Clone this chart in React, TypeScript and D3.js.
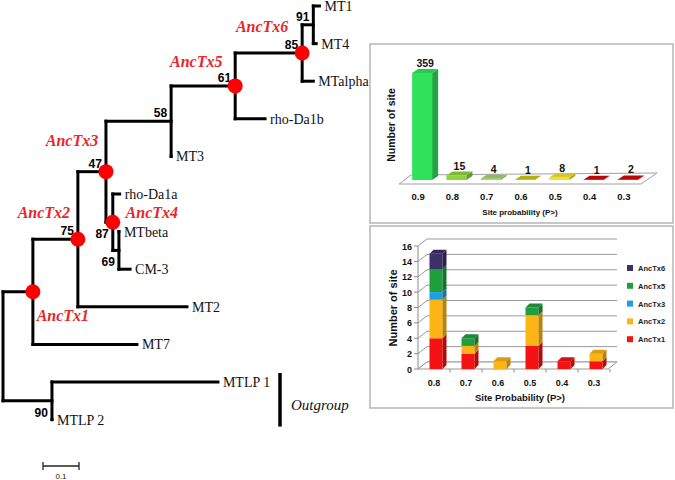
import React from 'react';
import * as d3 from 'd3';

// ---------------- Tree data ----------------
const tipOrder = ["MT1", "MT4", "MTalpha", "rho-Da1b", "MT3", "rho-Da1a", "MTbeta", "CM-3", "MT2", "MT7", "MTLP 1", "MTLP 2"];
// [node, parent, branch length]
const treeEdges: [string, string | null, number][] = [
  ["root", null, 0],
  ["AncTx1", "root", 0.083],
  ["n90", "root", 0.136],
  ["MTLP 1", "n90", 0.461],
  ["MTLP 2", "n90", 0.0],
  ["AncTx2", "AncTx1", 0.125],
  ["MT7", "AncTx1", 0.289],
  ["AncTx3", "AncTx2", 0.078],
  ["MT2", "AncTx2", 0.303],
  ["n58", "AncTx3", 0.181],
  ["AncTx4", "AncTx3", 0.019],
  ["rho-Da1a", "AncTx4", 0.019],
  ["n69", "AncTx4", 0.017],
  ["MTbeta", "n69", 0.0],
  ["CM-3", "n69", 0.031],
  ["AncTx5", "n58", 0.178],
  ["MT3", "n58", 0.0],
  ["rho-Da1b", "AncTx5", 0.083],
  ["AncTx6", "AncTx5", 0.186],
  ["n91", "AncTx6", 0.031],
  ["MTalpha", "AncTx6", 0.031],
  ["MT1", "n91", 0.017],
  ["MT4", "n91", 0.008],
];
const bootstrapValues: [string, number][] = [
  ["n91", 91], ["AncTx6", 85], ["AncTx5", 61], ["n58", 58], ["AncTx3", 47],
  ["AncTx2", 75], ["AncTx4", 87], ["n69", 69], ["n90", 90],
];
const bootstrapBelow = ["AncTx4", "n69", "n90"];
const ancestralNodes = ["AncTx1", "AncTx2", "AncTx3", "AncTx4", "AncTx5", "AncTx6"];
const outgroupTips = ["MTLP 1", "MTLP 2"];
const outgroupLabel = "Outgroup";
const scaleBarValue = 0.1;

// ---------------- Chart 1 data ----------------
const probCats1 = ["0.9", "0.8", "0.7", "0.6", "0.5", "0.4", "0.3"];
const siteCounts = [359, 15, 4, 1, 8, 1, 2];
const barColors1 = ["#2ee35a", "#8fd23c", "#a3d466", "#c9c90a", "#efe22e", "#d40808", "#d40808"];

// ---------------- Chart 2 data ----------------
const probCats2 = ["0.8", "0.7", "0.6", "0.5", "0.4", "0.3"];
const seriesNames = ["AncTx1", "AncTx2", "AncTx3", "AncTx5", "AncTx6"];
const ancTx1Counts = [4, 2, 0, 3, 1, 1];
const ancTx2Counts = [5, 1, 1, 4, 0, 1];
const ancTx3Counts = [1, 0, 0, 0, 0, 0];
const ancTx5Counts = [3, 1, 0, 1, 0, 0];
const ancTx6Counts = [2, 0, 0, 0, 0, 0];
const seriesColors = ["#f51212", "#fdb414", "#1d9fe6", "#1f9e3e", "#3d2f68"];
const yTicks2 = [0, 2, 4, 6, 8, 10, 12, 14, 16];

// label offsets for ancestral-node names (style)
const ancLabelOffset: Record<string, [number, number]> = {
  AncTx6: [-40, -21.5],
  AncTx5: [-39, -18.5],
  AncTx3: [-34, -26],
  AncTx2: [-34, -21.5],
  AncTx4: [39, -4.5],
  AncTx1: [30, 29.5],
};

const SANS = "'Liberation Sans', Arial, sans-serif";
const SERIF = "'Liberation Serif', 'Times New Roman', serif";

function Tree() {
  const xScale = d3.scaleLinear().domain([0, 0.1]).range([3, 39]);
  const yScale = d3.scalePoint<string>().domain(tipOrder).range([6, 419.6]);

  const parent = new Map<string, string | null>();
  const len = new Map<string, number>();
  const children = new Map<string, string[]>();
  treeEdges.forEach(([n, p, l]) => {
    parent.set(n, p);
    len.set(n, l);
    if (p) {
      if (!children.has(p)) children.set(p, []);
      children.get(p)!.push(n);
    }
  });
  const depth = new Map<string, number>();
  const getDepth = (n: string): number => {
    if (depth.has(n)) return depth.get(n)!;
    const p = parent.get(n);
    const d = p ? getDepth(p) + (len.get(n) || 0) : 0;
    depth.set(n, d);
    return d;
  };
  const yPos = new Map<string, number>();
  const getY = (n: string): number => {
    if (yPos.has(n)) return yPos.get(n)!;
    const ch = children.get(n);
    let y: number;
    if (!ch) y = yScale(n)!;
    else {
      const ys = ch.map(getY);
      y = (d3.min(ys)! + d3.max(ys)!) / 2;
    }
    yPos.set(n, y);
    return y;
  };
  const X = (n: string) => xScale(getDepth(n));
  const Y = (n: string) => getY(n);

  const sw = 3;
  const lines: JSX.Element[] = [];
  treeEdges.forEach(([n, p]) => {
    if (p) {
      lines.push(<line key={'h' + n} x1={X(p)} x2={X(n)} y1={Y(n)} y2={Y(n)} stroke="#000" strokeWidth={sw} strokeLinecap="square" />);
    }
    const ch = children.get(n);
    if (ch) {
      const ys = ch.map(Y);
      lines.push(<line key={'v' + n} x1={X(n)} x2={X(n)} y1={d3.min(ys)!} y2={d3.max(ys)!} stroke="#000" strokeWidth={sw} strokeLinecap="square" />);
    }
  });

  const ogY0 = yScale(outgroupTips[0])! - 9;
  const ogY1 = yScale(outgroupTips[1])! + 7;
  const sb0 = 43;
  const sb1 = sb0 + (xScale(scaleBarValue) - xScale(0));

  return (
    <g>
      {lines}
      {tipOrder.map((t) => (
        <text key={'t' + t} x={X(t) + 5} y={Y(t) + 5} fontFamily={SERIF} fontSize={14} fill="#111">{t}</text>
      ))}
      {bootstrapValues.map(([n, v]) => {
        const below = bootstrapBelow.includes(n);
        return (
          <text key={'b' + n} x={X(n) - 4} y={below ? Y(n) + 16 : Y(n) - 4} textAnchor="end" fontFamily={SANS} fontWeight="bold" fontSize={12} fill="#000">{v}</text>
        );
      })}
      {ancestralNodes.map((n) => (
        <circle key={'c' + n} cx={X(n)} cy={Y(n)} r={7.5} fill="#ff0000" />
      ))}
      {ancestralNodes.map((n) => (
        <text key={'a' + n} x={X(n) + ancLabelOffset[n][0]} y={Y(n) + ancLabelOffset[n][1]} textAnchor="middle" fontFamily={SERIF} fontWeight="bold" fontStyle="italic" fontSize={16} fill="#e8262b">{n}</text>
      ))}
      <line x1={280} x2={280} y1={ogY0} y2={ogY1} stroke="#000" strokeWidth={3.5} />
      <text x={291} y={410} fontFamily={SERIF} fontStyle="italic" fontSize={15} fill="#111">{outgroupLabel}</text>
      <line x1={sb0} x2={sb1} y1={466} y2={466} stroke="#222" strokeWidth={1.3} />
      <line x1={sb0} x2={sb0} y1={462} y2={470} stroke="#222" strokeWidth={1.3} />
      <line x1={sb1} x2={sb1} y1={462} y2={470} stroke="#222" strokeWidth={1.3} />
      <text x={(sb0 + sb1) / 2} y={479} textAnchor="middle" fontFamily={SANS} fontSize={8} fill="#222">{scaleBarValue}</text>
    </g>
  );
}

function Chart1() {
  const x = d3.scaleBand<string>().domain(probCats1).range([401, 641]);
  const y = d3.scaleLinear().domain([0, 359]).range([180, 73]);
  const bw = 20, dx = 6, dy = -4;
  const base = y(0);
  return (
    <g>
      <rect x={370} y={44} width={303} height={179} fill="#fff" stroke="#b5b5b5" strokeWidth={1.5} />
      <polygon points={`399,${base + 4} 641,${base + 4} 657,${base - 7} 411,${base - 5}`} fill="#fff" stroke="#a0a0a0" strokeWidth={1} />
      {probCats1.map((c, i) => {
        const cx = x(c)! + x.bandwidth() / 2;
        const xl = cx - 6, xr = xl + bw;
        const yt = y(siteCounts[i]);
        const col = d3.color(barColors1[i])!;
        const side = col.darker(0.9).toString();
        const top = col.darker(0.35).toString();
        return (
          <g key={c}>
            <rect x={xl} y={yt} width={bw} height={base - yt} fill={barColors1[i]} />
            <polygon points={`${xr},${yt} ${xr + dx},${yt + dy} ${xr + dx},${base + dy} ${xr},${base}`} fill={side} />
            <polygon points={`${xl},${yt} ${xl + dx},${yt + dy} ${xr + dx},${yt + dy} ${xr},${yt}`} fill={top} />
            <text x={cx + 7} y={yt - 6} textAnchor="middle" fontFamily={SANS} fontWeight="bold" fontSize={10.5} fill="#111">{siteCounts[i]}</text>
            <text x={cx} y={200} textAnchor="middle" fontFamily={SANS} fontWeight="bold" fontSize={9.5} fill="#111">{c}</text>
          </g>
        );
      })}
      <text x={520} y={215} textAnchor="middle" fontFamily={SANS} fontWeight="bold" fontSize={8} fill="#111">Site probability (P&gt;)</text>
      <text transform="translate(395,125) rotate(-90)" textAnchor="middle" fontFamily={SANS} fontWeight="bold" fontSize={10.5} fill="#111">Number of site</text>
    </g>
  );
}

function Chart2() {
  const x = d3.scaleBand<string>().domain(probCats2).range([418, 610]);
  const y = d3.scaleLinear().domain([0, 16]).range([369, 246]);
  const wdx = 9, wdy = -7;
  const bw = 13, dx = 4, dy = -4;
  const rows = probCats2.map((c, i) => ({
    cat: c,
    AncTx1: ancTx1Counts[i],
    AncTx2: ancTx2Counts[i],
    AncTx3: ancTx3Counts[i],
    AncTx5: ancTx5Counts[i],
    AncTx6: ancTx6Counts[i],
  }));
  const stack = d3.stack<any>().keys(seriesNames)(rows);
  const x0 = x.range()[0], x1 = x.range()[1];
  const base = y(0);
  return (
    <g>
      <rect x={370} y={226} width={303} height={182} fill="#fff" stroke="#b5b5b5" strokeWidth={1.5} />
      {yTicks2.map((t) => (
        <polyline key={'g' + t} points={`${x0},${y(t)} ${x0 + wdx},${y(t) + wdy} ${x1 + wdx - 2},${y(t) + wdy}`} fill="none" stroke="#9a9a9a" strokeWidth={1} />
      ))}
      <polygon points={`${x0},${base} ${x1 - 2},${base} ${x1 + wdx - 2},${base + wdy} ${x0 + wdx},${base + wdy}`} fill="#fff" stroke="#9a9a9a" strokeWidth={1} />
      <line x1={x0} x2={x0} y1={y(16)} y2={base} stroke="#8a8a8a" strokeWidth={1} />
      {yTicks2.map((t) => (
        <g key={'yt' + t}>
          <line x1={x0 - 4} x2={x0} y1={y(t)} y2={y(t)} stroke="#8a8a8a" strokeWidth={1} />
          <text x={x0 - 6} y={y(t) + 3.5} textAnchor="end" fontFamily={SANS} fontWeight="bold" fontSize={9} fill="#111">{t}</text>
        </g>
      ))}
      {probCats2.map((c, i) => (
        <g key={'xt' + c}>
          <line x1={x(c)! + x.bandwidth()} x2={x(c)! + x.bandwidth()} y1={base} y2={base + 3.5} stroke="#8a8a8a" strokeWidth={1} />
          <text x={x(c)! + x.bandwidth() / 2} y={386} textAnchor="middle" fontFamily={SANS} fontWeight="bold" fontSize={9} fill="#111">{c}</text>
        </g>
      ))}
      {probCats2.map((c, i) => {
        const cx = x(c)! + x.bandwidth() / 2;
        const xl = cx - 4.5, xr = xl + bw;
        const segs = stack.map((s, k) => ({ y0: s[i][0], y1: s[i][1], k })).filter((d) => d.y1 > d.y0);
        const last = segs[segs.length - 1];
        return (
          <g key={'bar' + c}>
            {segs.map((d) => {
              const col = d3.color(seriesColors[d.k])!;
              const yb = y(d.y0), yt = y(d.y1);
              return (
                <g key={d.k}>
                  <rect x={xl} y={yt} width={bw} height={yb - yt} fill={seriesColors[d.k]} />
                  <polygon points={`${xr},${yt} ${xr + dx},${yt + dy} ${xr + dx},${yb + dy} ${xr},${yb}`} fill={col.darker(0.9).toString()} />
                </g>
              );
            })}
            {last && (() => {
              const yt = y(last.y1);
              const col = d3.color(seriesColors[last.k])!;
              return <polygon points={`${xl},${yt} ${xl + dx},${yt + dy} ${xr + dx},${yt + dy} ${xr},${yt}`} fill={col.darker(0.4).toString()} />;
            })()}
          </g>
        );
      })}
      {seriesNames.slice().reverse().map((s, j) => {
        const k = seriesNames.indexOf(s);
        const ly = 268 + j * 17.8;
        return (
          <g key={'lg' + s}>
            <rect x={627} y={ly - 3} width={6} height={6} fill={seriesColors[k]} />
            <text x={638} y={ly + 3} fontFamily={SANS} fontWeight="bold" fontSize={7.5} fill="#222">{s}</text>
          </g>
        );
      })}
      <text x={520} y={401} textAnchor="middle" fontFamily={SANS} fontWeight="bold" fontSize={9.5} fill="#111">Site Probability (P&gt;)</text>
      <text transform="translate(397,308) rotate(-90)" textAnchor="middle" fontFamily={SANS} fontWeight="bold" fontSize={11} fill="#111">Number of site</text>
    </g>
  );
}

export default function App() {
  return (
    <svg width={675} height={480} viewBox="0 0 675 480" style={{ position: 'absolute', left: 0, top: 0, background: '#fff' }}>
      <rect x={0} y={0} width={675} height={480} fill="#fff" />
      <Tree />
      <Chart1 />
      <Chart2 />
    </svg>
  );
}
